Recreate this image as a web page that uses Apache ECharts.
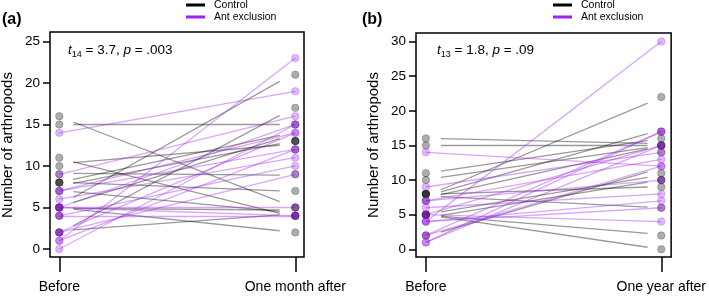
<!DOCTYPE html>
<html>
<head>
<meta charset="utf-8">
<script src="https://cdn.jsdelivr.net/npm/echarts@6/dist/echarts.min.js"></script>
<style>
  html, body { margin: 0; padding: 0; background: #fff; }
  #main { width: 709px; height: 296px; }
</style>
</head>
<body>
<div id="main"></div>
<script>
"use strict";
// x positions: 0 = Before, 1 = after
var xLabelsA = ["Before", "One month after"];
var xLabelsB = ["Before", "One year after"];
var yTicksA = [0, 5, 10, 15, 20, 25];
var yTicksB = [0, 5, 10, 15, 20, 25, 30];

/** (a) one month **/
var exclBeforeA = [14, 9, 7, 7, 6, 5, 5, 5, 4, 4, 2, 2, 1, 1, 0];
var exclAfterA  = [19, 16, 14, 12, 11, 5, 4, 15, 4, 10, 14, 9, 12, 23, 15];
var ctrlBeforeA = [16, 15, 11, 10, 9, 8, 8, 8, 7, 5, 5, 5, 4, 2, 2];
var ctrlAfterA  = [5, 15, 4, 12, 9, 13, 7, 13, 5, 21, 13, 4, 2, 17, 4];
// control trend segments (jittered, drawn shorter than the points)
var ctrlLineFromA = [15.3, 15.0, 10.5, 10.4, 9.1, 8.4, 8.0, 7.9, 6.9, 6.2, 5.6, 4.9, 4.8, 2.8, 2.3];
var ctrlLineToA   = [5.7, 15.0, 4.3, 12.5, 8.9, 13.7, 7.0, 12.7, 4.5, 20.2, 13.3, 4.7, 2.2, 16.1, 4.1];

/** (b) one year **/
var exclBeforeB = [14, 9, 7, 7, 6, 5, 5, 4, 4, 4, 2, 2, 1, 1];
var exclAfterB  = [12, 14, 13, 10, 8, 4, 15, 30, 6, 7, 12, 17, 17, 15];
var ctrlBeforeB = [16, 15, 11, 10, 8, 8, 8, 8, 7, 5, 5, 5, 5, 2];
var ctrlAfterB  = [15, 15, 16, 15, 22, 17, 14, 9, 6, 10, 10, 2, 0, 11];
var ctrlLineFromB = [16.0, 15.0, 11.3, 10.4, 8.6, 8.3, 7.9, 8.0, 7.6, 5.4, 4.9, 4.8, 4.7, 2.5];
var ctrlLineToB   = [15.3, 15.0, 15.7, 14.7, 21.1, 16.7, 14.5, 9.0, 6.1, 10.4, 9.7, 2.3, 0.3, 11.2];

var FONT = "Liberation Sans";
var GRAY = "rgba(0,0,0,0.4)";
var PURPLE = "rgba(160,32,240,0.4)";

function points(before, after) {
  var d = [];
  for (var i = 0; i < before.length; i++) {
    d.push([0, before[i]]);
    d.push([1, after[i]]);
  }
  return d;
}
function segs(from, to, x0, x1) {
  return from.map(function (v, i) {
    return { coords: [[x0, v], [x1, to[i]]] };
  });
}

function panelSeries(idx, cb, ca, lf, lt, eb, ea, x0, x1) {
  return [
    {
      type: "lines", coordinateSystem: "cartesian2d", xAxisIndex: idx, yAxisIndex: idx,
      data: segs(lf, lt, x0, x1), silent: true,
      lineStyle: { color: GRAY, width: 1.3, opacity: 1 }
    },
    {
      type: "lines", coordinateSystem: "cartesian2d", xAxisIndex: idx, yAxisIndex: idx,
      data: segs(eb, ea, 0, 1), silent: true,
      lineStyle: { color: PURPLE, width: 1.3, opacity: 1 }
    },
    {
      type: "scatter", xAxisIndex: idx, yAxisIndex: idx, symbolSize: 7.5,
      data: points(cb, ca), silent: true,
      itemStyle: { color: GRAY, borderColor: "rgba(0,0,0,0.25)", borderWidth: 1 }
    },
    {
      type: "scatter", xAxisIndex: idx, yAxisIndex: idx, symbolSize: 7.5,
      data: points(eb, ea), silent: true,
      itemStyle: { color: PURPLE, borderColor: "rgba(120,20,190,0.25)", borderWidth: 1 }
    }
  ];
}

function xAxis(idx, min, max, labels) {
  return {
    gridIndex: idx, type: "value", min: min, max: max, position: "bottom",
    axisLine: { show: true, onZero: false, lineStyle: { color: "rgba(0,0,0,0)" } },
    splitLine: { show: false },
    axisTick: { show: true, customValues: [0, 1], length: 15, lineStyle: { color: "#000", width: 1.5 } },
    axisLabel: {
      customValues: [0, 1], margin: 23, fontSize: 14, color: "#000", fontFamily: FONT,
      formatter: function (v) { return labels[Math.round(v)]; }
    }
  };
}
function yAxis(idx, min, max, ticks) {
  return {
    gridIndex: idx, type: "value", min: min, max: max, position: "left",
    axisLine: { show: true, onZero: false, lineStyle: { color: "rgba(0,0,0,0)" } },
    splitLine: { show: false },
    axisTick: { show: true, customValues: ticks, length: 7, lineStyle: { color: "#000", width: 1.5 } },
    axisLabel: { customValues: ticks, margin: 10, fontSize: 13.5, color: "#000", fontFamily: FONT }
  };
}

function legend(x, y) {
  return [
    { type: "line", shape: { x1: x, y1: y, x2: x + 19, y2: y }, style: { stroke: "#000", lineWidth: 3 } },
    { type: "line", shape: { x1: x, y1: y + 12, x2: x + 19, y2: y + 12 }, style: { stroke: "#A020F0", lineWidth: 3 } },
    { type: "text", x: x + 28, y: y, style: { text: "Control", font: "10.5px " + FONT, fill: "#000", verticalAlign: "middle" } },
    { type: "text", x: x + 28, y: y + 12, style: { text: "Ant exclusion", font: "10.5px " + FONT, fill: "#000", verticalAlign: "middle" } }
  ];
}
function stat(x, y, sub, rest, p) {
  return {
    type: "text", x: x, y: y,
    style: {
      text: "{i|t}{s|" + sub + "}{n| = " + rest + ", }{i|p}{n| = " + p + "}",
      verticalAlign: "middle",
      rich: {
        i: { fontStyle: "italic", fontSize: 13.5, fontFamily: FONT, fill: "#000", lineHeight: 18, verticalAlign: "middle" },
        n: { fontSize: 13.5, fontFamily: FONT, fill: "#000", lineHeight: 18, verticalAlign: "middle" },
        s: { fontSize: 9, fontFamily: FONT, fill: "#000", lineHeight: 18, verticalAlign: "bottom" }
      }
    }
  };
}
function yName(x, y) {
  return {
    type: "text", x: x, y: y, rotation: Math.PI / 2,
    style: { text: "Number of arthropods", font: "15px " + FONT, fill: "#000", align: "center", verticalAlign: "middle" }
  };
}

var chart = echarts.init(document.getElementById("main"));
chart.setOption({
  animation: false,
  backgroundColor: "#fff",
  grid: [
    { left: 50, top: 32, width: 254, height: 225, show: true, borderColor: "#000", borderWidth: 1.5 },
    { left: 416, top: 33, width: 256, height: 224, show: true, borderColor: "#000", borderWidth: 1.5 }
  ],
  xAxis: [
    xAxis(0, -0.0394, 1.0369, xLabelsA),
    xAxis(1, -0.042, 1.042, xLabelsB)
  ],
  yAxis: [
    yAxis(0, -0.964, 26.14, yTicksA),
    yAxis(1, -1.11, 31.24, yTicksB)
  ],
  series: panelSeries(0, ctrlBeforeA, ctrlAfterA, ctrlLineFromA, ctrlLineToA, exclBeforeA, exclAfterA, 0.059, 0.934)
    .concat(panelSeries(1, ctrlBeforeB, ctrlAfterB, ctrlLineFromB, ctrlLineToB, exclBeforeB, exclAfterB, 0.064, 0.942)),
  graphic: [
    { type: "text", x: 2, y: 20, style: { text: "(a)", font: "bold 16px " + FONT, fill: "#000", verticalAlign: "middle" } },
    { type: "text", x: 362, y: 20, style: { text: "(b)", font: "bold 16px " + FONT, fill: "#000", verticalAlign: "middle" } },
    stat(68, 50, "14", "3.7", ".003"),
    stat(437, 50, "13", "1.8", ".09"),
    yName(8, 145),
    yName(374, 145)
  ].concat(legend(186, 5), legend(553, 5))
});
</script>
</body>
</html>
